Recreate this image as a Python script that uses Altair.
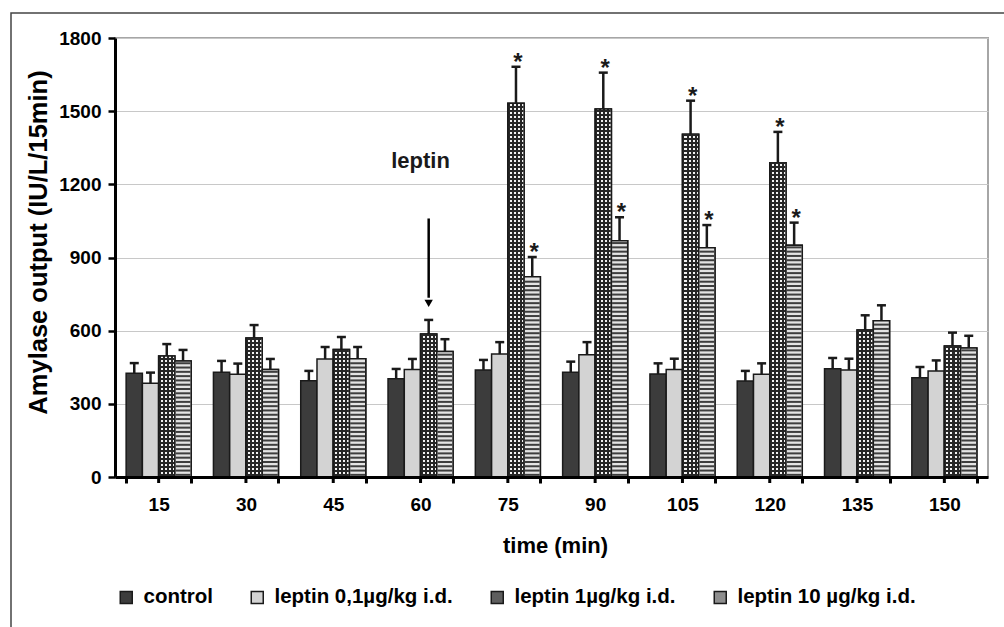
import altair as alt
import pandas as pd

# ---------------- data ----------------
times = [15, 30, 45, 60, 75, 90, 105, 120, 135, 150]
series_names = ["control", "leptin 0,1µg/kg i.d.", "leptin 1µg/kg i.d.", "leptin 10 µg/kg i.d."]

control = [425, 429, 395, 403, 439, 429, 422, 394, 444, 407]
control_err = [42, 47, 40, 40, 41, 44, 44, 41, 44, 44]

lep01 = [384, 421, 484, 441, 504, 501, 441, 421, 439, 435]
lep01_err = [44, 44, 49, 43, 49, 52, 44, 45, 46, 43]

lep1 = [496, 570, 523, 586, 1532, 1509, 1405, 1288, 603, 537]
lep1_err = [49, 53, 51, 58, 150, 149, 138, 127, 60, 55]

lep10 = [476, 441, 485, 515, 821, 969, 940, 950, 641, 529]
lep10_err = [45, 43, 48, 50, 81, 96, 93, 93, 63, 50]

sig_ctrl = [0, 0, 0, 0, 0, 0, 0, 0, 0, 0]
sig_01 = [0, 0, 0, 0, 0, 0, 0, 0, 0, 0]
sig_1 = [0, 0, 0, 0, 1, 1, 1, 1, 0, 0]
sig_10 = [0, 0, 0, 0, 1, 1, 1, 1, 0, 0]

y_ticks = [0, 300, 600, 900, 1200, 1500, 1800]

annot_text = "leptin"
annot_time = [60]
annot_series = ["leptin 1µg/kg i.d."]
arrow_top = [1060]
arrow_bottom = [735]
arrow_head = [712]
annot_label_y = [1297]

# ---------------- build table ----------------
rows = []
for name, vals, errs, sigs in zip(
    series_names,
    [control, lep01, lep1, lep10],
    [control_err, lep01_err, lep1_err, lep10_err],
    [sig_ctrl, sig_01, sig_1, sig_10],
):
    for t, v, e, s in zip(times, vals, errs, sigs):
        rows.append({"time": t, "series": name, "value": v, "top": v + e, "sig": s})
df = pd.DataFrame(rows)

fills = ["#3c3c3c", "#d3d3d3", "#5e5e5e", "#8e8e8e"]
FONT = "Liberation Sans"
INK = "#1a1a1a"

x_enc = alt.X(
    "time:O",
    sort=times,
    scale=alt.Scale(paddingInner=0.255, paddingOuter=0.1275),
    axis=alt.Axis(
        title="time (min)",
        labelAngle=0,
        labelFontSize=19,
        labelFontWeight="bold",
        labelColor="black",
        labelPadding=12,
        tickBand="extent",
        tickSize=6,
        tickWidth=3,
        tickColor="black",
        domainColor="black",
        domainWidth=3,
        titleFontSize=22,
        titleFontWeight="bold",
        titleColor="black",
        titleBaseline="alphabetic",
        titleY=75,
        titleX=440,
        zindex=1,
    ),
)
xoff_enc = alt.XOffset(
    "series:N", sort=series_names, scale=alt.Scale(domain=series_names, paddingInner=0, paddingOuter=0)
)

y_axis = alt.Axis(
    title="Amylase output (IU/L/15min)",
    values=y_ticks,
    format="d",
    labelFontSize=19,
    labelFontWeight="bold",
    labelColor="black",
    labelPadding=7,
    tickSize=7,
    tickWidth=2.5,
    tickColor="black",
    domainColor="black",
    domainWidth=3,
    gridColor="#c8c8c8",
    gridWidth=1,
    titleFontSize=25.5,
    titleFontWeight="bold",
    titleColor="black",
    titleAngle=270,
    titleAlign="center",
    titleBaseline="middle",
    titleX=-77,
    titleY=204,
)
y_scale = alt.Scale(domain=[0, 1800], nice=False)


def Y(field):
    return alt.Y(field, scale=y_scale, axis=y_axis)


base = alt.Chart(df).encode(x=x_enc, xOffset=xoff_enc)

bars = base.mark_bar(stroke=INK, strokeWidth=1.5).encode(
    y=Y("value:Q"),
    fill=alt.Fill(
        "series:N",
        sort=series_names,
        scale=alt.Scale(domain=series_names, range=fills),
        legend=alt.Legend(
            orient="none",
            legendX=1,
            legendY=549,
            direction="horizontal",
            title=None,
            symbolType="square",
            symbolSize=144,
            symbolStrokeColor=INK,
            symbolStrokeWidth=1.5,
            labelFontSize=20.5,
            labelFontWeight="bold",
            labelColor="black",
            labelOffset=7,
            columnPadding=34,
            labelLimit=400,
        ),
    ),
)

# 1 µg/kg bars: black/white dotted-grid texture (vertical stripes + horizontal dark lines)
stops = []
for k in range(4):
    a = k / 4.0
    stops += [
        {"offset": a, "color": "#262626"},
        {"offset": a + 0.125, "color": "#262626"},
        {"offset": a + 0.125, "color": "#f2f2f2"},
        {"offset": a + 0.25, "color": "#f2f2f2"},
    ]
checker_grad = alt.LinearGradient(gradient="linear", x1=0, y1=0, x2=1, y2=0, stops=stops)

bars_1 = base.transform_filter(alt.datum.series == series_names[2]).mark_bar(
    stroke=INK, strokeWidth=1.5, fill=checker_grad
).encode(y=Y("value:Q"))
lines_1 = (
    base.transform_filter(alt.datum.series == series_names[2])
    .transform_calculate(s="sequence(8.2, datum.value, 16.4)")
    .transform_flatten(["s"])
    .mark_tick(color="#262626", thickness=2, size=15, opacity=1)
    .encode(y=Y("s:Q"))
)

# 10 µg/kg bars: horizontal stripes
bars_10 = base.transform_filter(alt.datum.series == series_names[3]).mark_bar(
    stroke=INK, strokeWidth=1.5, fill="#e4e4e4"
).encode(y=Y("value:Q"))
lines_10 = (
    base.transform_filter(alt.datum.series == series_names[3])
    .transform_calculate(s="sequence(8.8, datum.value - 4, 17.6)")
    .transform_flatten(["s"])
    .mark_tick(color="#3e3e3e", thickness=2, size=15, opacity=1)
    .encode(y=Y("s:Q"))
)

err_rule = base.mark_rule(color=INK, strokeWidth=2.5).encode(y=Y("value:Q"), y2="top:Q")
err_cap = base.mark_tick(color=INK, thickness=2.5, size=9, opacity=1).encode(y=Y("top:Q"))
stars = base.transform_filter("datum.sig == 1").mark_text(
    text="*", fontSize=24, fontWeight="bold", baseline="alphabetic", dx=2, dy=3, color=INK
).encode(y=Y("top:Q"))

# centre ticks on the x axis
center_ticks = alt.Chart(pd.DataFrame({"time": times})).mark_rule(color="black", strokeWidth=3).encode(
    x=x_enc, y=alt.value(439), y2=alt.value(445)
)

annot = pd.DataFrame(
    {
        "time": annot_time,
        "series": annot_series,
        "y1": arrow_top,
        "y2": arrow_bottom,
        "yh": arrow_head,
        "yl": annot_label_y,
        "label": [annot_text],
    }
)
arrow_line = alt.Chart(annot).mark_rule(color="black", strokeWidth=2.5).encode(
    x=x_enc, xOffset=xoff_enc, y=Y("y1:Q"), y2="y2:Q"
)
arrow_tip = alt.Chart(annot).mark_point(
    shape="triangle-down", filled=True, size=70, color="black", opacity=1
).encode(x=x_enc, xOffset=xoff_enc, y=Y("yh:Q"))
annot_label = alt.Chart(annot).mark_text(
    fontSize=22, fontWeight="bold", color=INK, baseline="middle"
).encode(x=x_enc, y=Y("yl:Q"), text="label:N")

frame = alt.Chart(pd.DataFrame({"k": [0]})).mark_rect(
    fill="transparent", stroke="#444444", strokeWidth=1.5
).encode(x=alt.value(-104), x2=alt.value(905), y=alt.value(-25), y2=alt.value(620))

chart = (
    alt.layer(
        frame, bars, bars_1, lines_1, bars_10, lines_10,
        err_rule, err_cap, stars, center_ticks, arrow_line, arrow_tip, annot_label,
    )
    .properties(
        width=873,
        height=439,
        padding={"left": 115, "top": 38, "right": 16, "bottom": 150},
        autosize="none",
        background="white",
    )
    .configure(font=FONT)
    .configure_view(stroke="#a6a6a6", strokeWidth=2)
)

chart.save("out.html", embed_options={"renderer": "svg", "actions": False})
